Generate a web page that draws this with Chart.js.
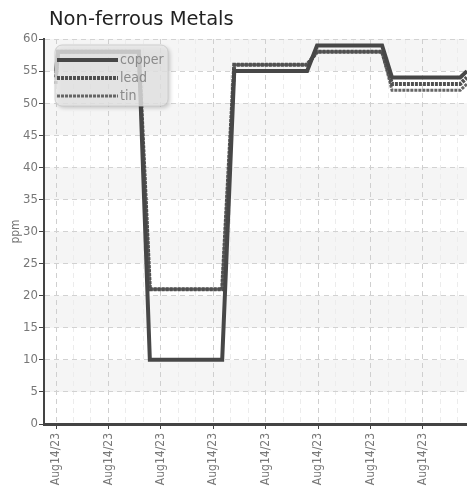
<!DOCTYPE html>
<html>
<head>
<meta charset="utf-8">
<script src="https://cdn.jsdelivr.net/npm/chart.js@4.4.0/dist/chart.umd.min.js"></script>
<style>
html,body{margin:0;padding:0;background:#fff;}
#wrap{position:relative;width:467px;height:491px;}
</style>
</head>
<body>
<div id="wrap"><canvas id="c"></canvas></div>
<script>
// ---- data ----
const chartTitle = 'Non-ferrous Metals';
const seriesNames = ['copper', 'lead', 'tin'];
const times  = [0, 0.04, 1.58, 1.79, 3.17, 3.40, 4.79, 4.98, 6.22, 6.41, 7.71, 7.84];
const copper = [55, 58, 58, 10, 10, 55, 55, 59, 59, 54, 54, 55];
const lead   = [54, 58, 58, 21, 21, 56, 56, 58, 58, 53, 53, 54];
const tin    = [53, 58, 58, 21, 21, 56, 56, 58, 58, 52, 52, 53];
const tickLabel = 'Aug14/23';
const yTitle = 'ppm';

const toPts = vals => vals.map((v, i) => ({x: times[i], y: v}));
const FONT = "'Liberation Sans Narrow', 'DejaVu Sans Condensed', sans-serif";

const bandsPlugin = {
  id: 'bands',
  beforeDraw(chart) {
    const {ctx, chartArea: a, scales: {y}} = chart;
    ctx.save();
    ctx.fillStyle = '#f5f5f5';
    for (let v = 5; v < 60; v += 10) {
      const t = y.getPixelForValue(v + 5), b = y.getPixelForValue(v);
      ctx.fillRect(a.left, t, a.right - a.left, b - t);
    }
    ctx.restore();
  }
};

const titlePlugin = {
  id: 'ttl',
  afterDraw(chart) {
    const ctx = chart.ctx;
    ctx.save();
    ctx.font = "19.5px 'DejaVu Sans', sans-serif";
    ctx.fillStyle = '#222';
    ctx.textBaseline = 'alphabetic';
    ctx.fillText(chartTitle, 49, 25);
    ctx.restore();
  }
};

const legendPlugin = {
  id: 'boxlegend',
  afterDraw(chart) {
    const ctx = chart.ctx;
    const x = 55, y = 45, w = 113, h = 61, r = 7;
    ctx.save();
    ctx.shadowColor = 'rgba(0,0,0,0.25)';
    ctx.shadowBlur = 4;
    ctx.shadowOffsetX = 2;
    ctx.shadowOffsetY = 2;
    ctx.fillStyle = 'rgba(232,232,232,0.8)';
    ctx.beginPath();
    ctx.roundRect(x, y, w, h, r);
    ctx.fill();
    ctx.shadowColor = 'transparent';
    ctx.strokeStyle = 'rgba(200,200,200,0.8)';
    ctx.lineWidth = 1;
    ctx.stroke();
    chart.data.datasets.forEach((ds, i) => {
      const ly = 60 + i * 18;
      ctx.strokeStyle = ds.borderColor;
      ctx.lineWidth = ds.borderWidth;
      ctx.setLineDash(ds.borderDash || []);
      ctx.beginPath();
      ctx.moveTo(57, ly);
      ctx.lineTo(118, ly);
      ctx.stroke();
      ctx.setLineDash([]);
      ctx.fillStyle = '#8a8a8a';
      ctx.font = '14px ' + FONT;
      ctx.textBaseline = 'middle';
      ctx.fillText(ds.label, 120, ly);
    });
    ctx.restore();
  }
};

const isMajor = v => Math.abs(v - Math.round(v)) < 0.01;

new Chart(document.getElementById('c'), {
  type: 'line',
  data: {
    datasets: [
      {label: seriesNames[0], data: toPts(copper), borderColor: '#474747', borderWidth: 4, borderDash: []},
      {label: seriesNames[1], data: toPts(lead), borderColor: '#505050', borderWidth: 4, borderDash: [3, 1]},
      {label: seriesNames[2], data: toPts(tin), borderColor: '#666666', borderWidth: 3, borderDash: [3, 1]}
    ]
  },
  options: {
    responsive: true,
    maintainAspectRatio: false,
    animation: false,
    layout: {padding: {top: 39, left: 0, right: 0, bottom: 0}},
    elements: {point: {radius: 0}, line: {tension: 0, borderJoinStyle: 'miter'}},
    plugins: {legend: {display: false}, title: {display: false}, tooltip: {enabled: false}},
    scales: {
      x: {
        type: 'linear',
        min: -0.229,
        max: 7.84,
        afterFit: s => { s.height = 67; s.paddingLeft = 0; s.paddingRight = 0; },
        afterBuildTicks: s => {
          const t = [];
          for (let k = 0; k <= 23; k++) t.push({value: k / 3});
          s.ticks = t;
        },
        ticks: {
          autoSkip: false,
          maxRotation: 90,
          minRotation: 90,
          padding: 4,
          color: '#777',
          font: {family: FONT, size: 12},
          callback: v => isMajor(v) ? tickLabel : ''
        },
        grid: {
          color: c => (c.tick && isMajor(c.tick.value)) ? '#cfcfcf' : '#ececec',
          tickColor: c => (c.tick && isMajor(c.tick.value)) ? '#444' : 'rgba(0,0,0,0)',
          tickLength: 5,
          lineWidth: 1
        },
        border: {display: true, color: '#444', width: 3, dash: [5, 4]}
      },
      y: {
        min: 0,
        max: 60,
        afterFit: s => { s.width = 44; },
        ticks: {stepSize: 5, color: '#777', padding: 1, font: {family: FONT, size: 13}},
        grid: {color: '#d2d2d2', tickColor: '#444', tickLength: 5, lineWidth: 1},
        border: {display: true, color: '#444', width: 2, dash: [5, 4]},
        title: {display: true, text: yTitle, color: '#777', font: {family: FONT, size: 12}, padding: {top: 9, bottom: 0}}
      }
    }
  },
  plugins: [bandsPlugin, titlePlugin, legendPlugin]
});
</script>
</body>
</html>
